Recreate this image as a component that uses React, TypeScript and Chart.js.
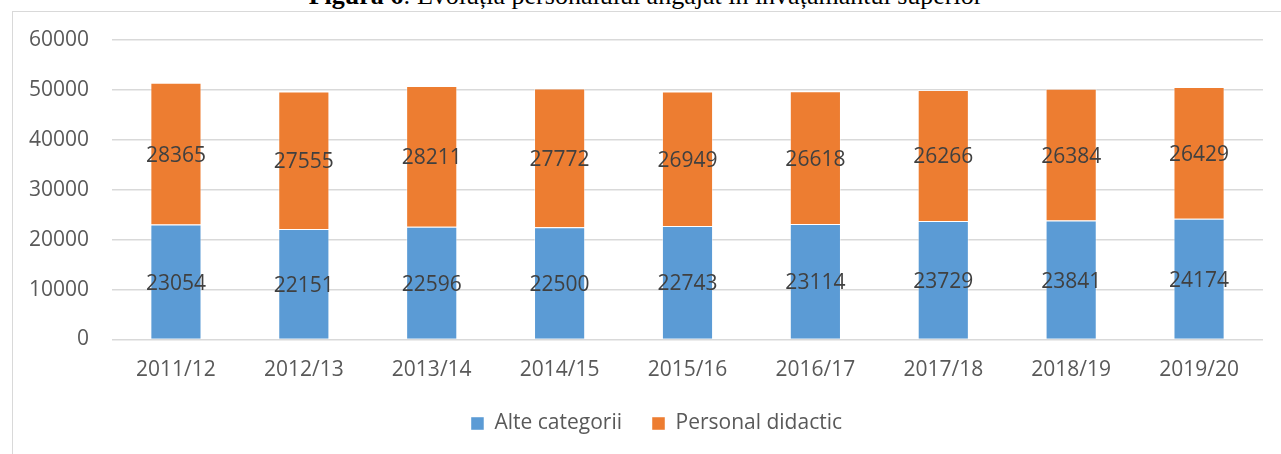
import React, { useEffect, useRef } from "react";
import { Chart, registerables } from "chart.js";

Chart.register(...registerables);

const categories = ["2011/12", "2012/13", "2013/14", "2014/15", "2015/16", "2016/17", "2017/18", "2018/19", "2019/20"];
const alteCategorii = [23054, 22151, 22596, 22500, 22743, 23114, 23729, 23841, 24174];
const personalDidactic = [28365, 27555, 28211, 27772, 26949, 26618, 26266, 26384, 26429];
const seriesNames = ["Alte categorii", "Personal didactic"];
const yTicks = [0, 10000, 20000, 30000, 40000, 50000, 60000];

const FONT = "'Open Sans', 'Noto Sans', sans-serif";

const dataLabelPlugin = {
  id: "segLabels",
  afterDatasetsDraw(chart: any) {
    const ctx = chart.ctx;
    ctx.save();
    ctx.font = `21px ${FONT}`;
    ctx.fillStyle = "#404040";
    ctx.textAlign = "center";
    ctx.textBaseline = "middle";
    chart.data.datasets.forEach((ds: any, di: number) => {
      const meta = chart.getDatasetMeta(di);
      meta.data.forEach((el: any, i: number) => {
        const y = (el.y + el.base) / 2;
        ctx.fillText(String(ds.data[i]), el.x, y + 2);
      });
    });
    ctx.restore();
  },
};

const legendShiftPlugin = {
  id: "legendShift",
  afterLayout(chart: any) {
    if (chart.legend) {
      chart.legend.left += 25;
      chart.legend.right += 25;
    }
  },
};

export default function App() {
  const ref = useRef<HTMLCanvasElement>(null);
  useEffect(() => {
    if (!ref.current) return;
    const chart = new Chart(ref.current, {
      type: "bar",
      data: {
        labels: categories,
        datasets: [
          {
            label: seriesNames[0],
            data: alteCategorii,
            backgroundColor: "#5B9BD5",
            borderColor: "rgba(255,255,255,0.45)",
            borderWidth: 1,
            barPercentage: 0.4,
            categoryPercentage: 1,
          },
          {
            label: seriesNames[1],
            data: personalDidactic,
            backgroundColor: "#ED7D31",
            borderColor: "rgba(255,255,255,0.45)",
            borderWidth: 1,
            barPercentage: 0.4,
            categoryPercentage: 1,
          },
        ],
      },
      options: {
        animation: false,
        responsive: false,
        layout: { padding: { top: 40, right: 18, left: 0, bottom: 10 } },
        scales: {
          x: {
            stacked: true,
            grid: { display: false, drawTicks: false },
            border: { display: false },
            ticks: { color: "#595959", font: { family: FONT, size: 21 }, padding: 18 },
            afterFit(scale: any) {
              scale.height = 43.5;
            },
          },
          y: {
            stacked: true,
            min: 0,
            max: 60000,
            afterBuildTicks(scale: any) {
              scale.ticks = yTicks.map((v) => ({ value: v }));
            },
            afterFit(scale: any) {
              scale.width = 112;
            },
            grid: { color: "#d9d9d9", lineWidth: 1.5, drawTicks: false },
            border: { display: false },
            ticks: {
              color: "#595959",
              font: { family: FONT, size: 21 },
              padding: 23,
              callback: (v: any) => String(v),
            },
          },
        },
        plugins: {
          legend: {
            position: "bottom",
            labels: {
              boxWidth: 13,
              boxHeight: 13,
              color: "#595959",
              font: { family: FONT, size: 21 },
              padding: 30,
            },
          },
          tooltip: { enabled: false },
        },
      },
      plugins: [dataLabelPlugin, legendShiftPlugin],
    });
    return () => chart.destroy();
  }, []);

  return (
    <div style={{ position: "fixed", left: 0, top: 0, width: 1281, height: 454, overflow: "hidden", background: "#fff" }}>
      <div
        style={{
          position: "absolute",
          left: 0,
          top: -17,
          width: 1291,
          textAlign: "center",
          fontFamily: "'Liberation Serif', 'Times New Roman', serif",
          fontSize: 26,
          lineHeight: "26px",
          color: "#000",
          whiteSpace: "nowrap",
        }}
      >
        <b>Figura 6</b>: Evoluția personalului angajat în învățământul superior
      </div>
      <div
        style={{
          position: "absolute",
          left: 12,
          top: 11,
          width: 1300,
          height: 470,
          border: "1.5px solid #d9d9d9",
          boxSizing: "border-box",
        }}
      />
      <canvas ref={ref} width={1281} height={454} style={{ position: "absolute", left: 0, top: 0 }} />
    </div>
  );
}
